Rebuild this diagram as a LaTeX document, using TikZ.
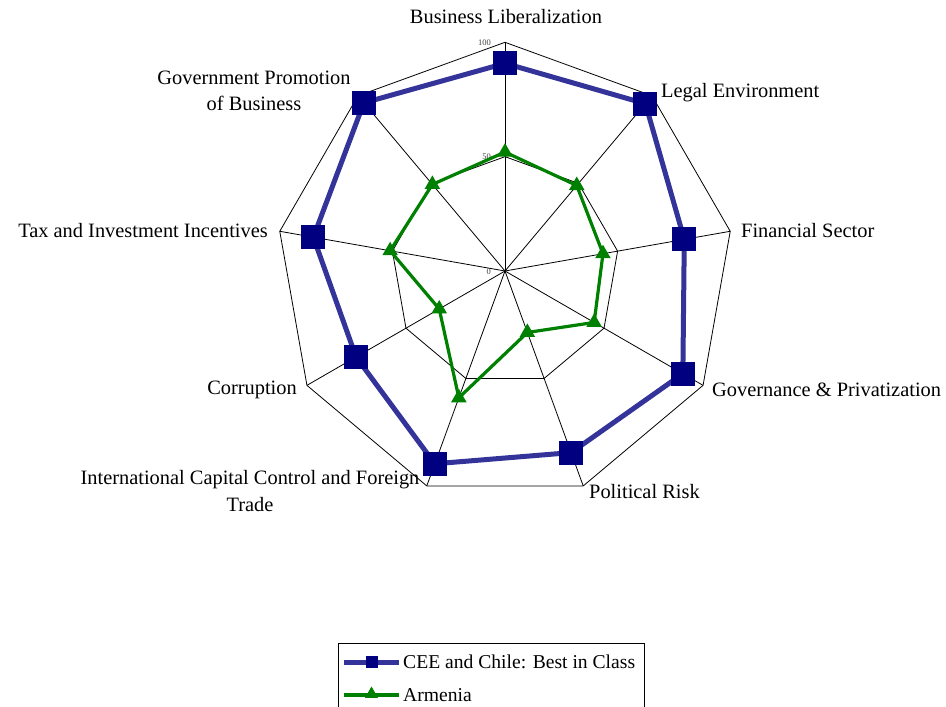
\documentclass[tikz,border=0pt]{standalone}
\usepackage{fontspec}
\setmainfont{Liberation Serif}
\usetikzlibrary{shapes.geometric}
\definecolor{ceeline}{RGB}{51,51,153}
\definecolor{ceemark}{RGB}{0,0,128}
\definecolor{armgreen}{RGB}{0,128,0}
\tikzset{
  grid/.style={draw=black, line width=0.8pt},
  axlabel/.style={font=\fontsize{20.4}{26.5}\selectfont, inner sep=0pt, align=center},
  leglabel/.style={font=\fontsize{19.6}{24}\selectfont, inner sep=0pt, anchor=west},
  ticklabel/.style={font=\fontsize{8.5}{9}\selectfont, text=black!75, inner sep=0pt, anchor=east},
  ceepath/.style={draw=ceeline, line width=5pt, line join=round},
  armpath/.style={draw=armgreen, line width=3.2pt, line join=round},
  sqmark/.style={rectangle, fill=ceemark, minimum size=24pt, inner sep=0pt},
  trimark/.style={regular polygon, regular polygon sides=3, fill=armgreen, minimum size=18pt, inner sep=0pt},
  sqmarksmall/.style={rectangle, fill=ceemark, minimum size=12pt, inner sep=0pt},
  trimarksmall/.style={regular polygon, regular polygon sides=3, fill=armgreen, minimum size=15pt, inner sep=0pt},
}
\begin{document}
\begin{tikzpicture}[x=1pt,y=1pt]
\useasboundingbox (0,0) rectangle (946,-707);
\coordinate (O) at (505,-271);
\def\R{228.7}
% axis vertices (100) and mid ring (50)
\foreach \a [count=\i] in {90,50,10,-30,-70,-110,-150,170,130}{
  \coordinate (v\i) at ([shift={(\a:\R)}]O);
  \coordinate (m\i) at ([shift={(\a:{\R/2})}]O);
}
\foreach \i in {1,...,9} \draw[grid] (O) -- (v\i);
\draw[grid] (v1) -- (v2) -- (v3) -- (v4) -- (v5) -- (v6) -- (v7) -- (v8) -- (v9) -- cycle;
\draw[grid] (m1) -- (m2) -- (m3) -- (m4) -- (m5) -- (m6) -- (m7) -- (m8) -- (m9) -- cycle;
% tick labels
\node[ticklabel] (t100) at (491,-43) {100};
\node[ticklabel] (t50) at (491,-157) {50};
\node[ticklabel] (t0) at (491,-272) {0};
% series points
\foreach \a/\v [count=\i] in {90/90.8,50/95.5,10/79.6,-30/89.8,-70/84.5,-110/89.7,-150/75.2,170/85.1,130/96}{
  \coordinate (c\i) at ([shift={(\a:{\v*2.287})}]O);
}
\foreach \a/\v [count=\i] in {90/52,50/48.8,10/43.5,-30/45,-70/28.6,-110/59,-150/33.2,170/51,130/49.4}{
  \coordinate (g\i) at ([shift={(\a:{\v*2.287})}]O);
}
\draw[armpath] (g1) -- (g2) -- (g3) -- (g4) -- (g5) -- (g6) -- (g7) -- (g8) -- (g9) -- cycle;
\foreach \i in {1,...,9} \node[trimark] (gm\i) at (g\i) {};
\draw[ceepath] (c1) -- (c2) -- (c3) -- (c4) -- (c5) -- (c6) -- (c7) -- (c8) -- (c9) -- cycle;
\foreach \i in {1,...,9} \node[sqmark] (cm\i) at (c\i) {};
% axis labels
\node[axlabel] (l1) at (506,-17) {Business Liberalization};
\node[axlabel, anchor=west] (l2) at (661,-93) {Legal Environment};
\node[axlabel, anchor=west] (l3) at (741,-231) {Financial Sector};
\node[axlabel, anchor=west] (l4) at (712,-390) {Governance \& Privatization};
\node[axlabel, anchor=west] (l5) at (589,-492) {Political Risk};
\node[axlabel] (l6) at (250,-491) {International Capital Control and Foreign\\Trade};
\node[axlabel, anchor=east] (l7) at (297,-390) {Corruption};
\node[axlabel, anchor=east] (l8) at (268,-231) {Tax and Investment Incentives};
\node[axlabel] (l9) at (254,-91) {Government Promotion\\of Business};
% legend
\draw[grid] (338,-712) -- (338,-643) -- (644,-643) -- (644,-712);
\coordinate (la1) at (344,-662);
\coordinate (lb1) at (399,-662);
\coordinate (la2) at (344,-695);
\coordinate (lb2) at (399,-695);
\draw[ceepath] (la1) -- (lb1);
\node[sqmarksmall] (lm1) at (371.5,-662) {};
\draw[armpath] (la2) -- (lb2);
\node[trimarksmall] (lm2) at (371.5,-694) {};
\node[leglabel] (lt1) at (403,-662) {CEE and Chile: Best in Class};
\node[leglabel] (lt2) at (403,-695) {Armenia};
\end{tikzpicture}
\end{document}
